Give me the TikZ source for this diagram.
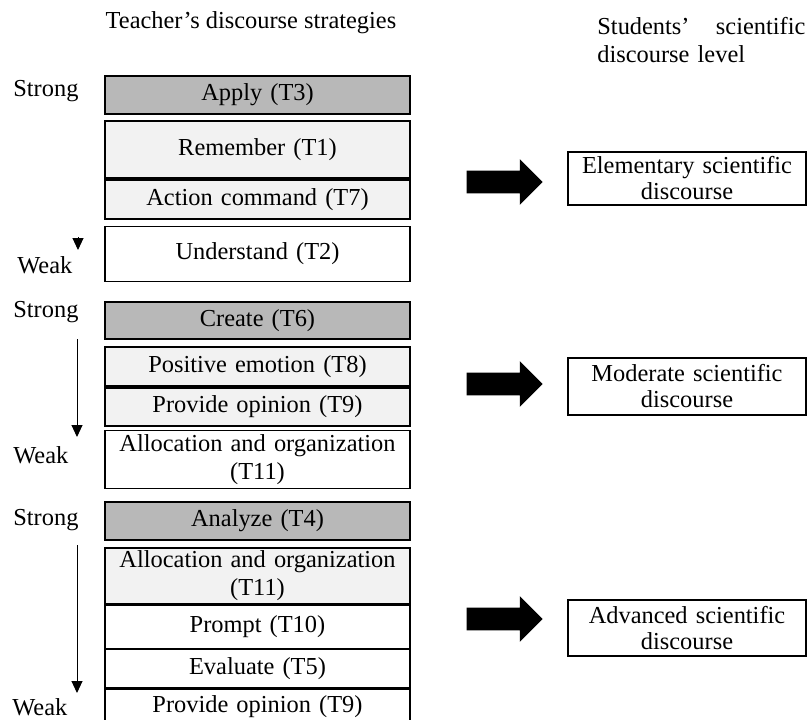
\documentclass[tikz,border=0pt]{standalone}
\usepackage{fontspec}
\setmainfont{Liberation Serif}
\usetikzlibrary{positioning,shapes.arrows,arrows.meta}
\definecolor{stronggray}{HTML}{B8B8B8}
\definecolor{palegray}{HTML}{F2F2F2}

\begin{document}
\begin{tikzpicture}[x=0.5pt,y=-0.5pt,
    font=\fontsize{12.2}{14}\selectfont,
    box/.style={draw,inner sep=0pt,minimum width=152.5pt,text width=148pt,align=center},
    topbox/.style={box,fill=stronggray,line width=1pt},
    midbox/.style={box,fill=palegray,line width=1pt},
    lowbox/.style={box,fill=white,line width=0.6pt},
    level/.style={draw,line width=0.7pt,inner sep=0pt,minimum width=119pt,text width=117pt,
      align=center,font=\fontsize{12.2}{13}\selectfont},
    bigarrow/.style={single arrow,fill=black,inner xsep=0pt,inner ysep=5.5pt,minimum height=38pt,
      single arrow head extend=5.75pt},
    rankword/.style={anchor=base west,inner sep=0pt},
    tip/.style={line width=0.5pt,-{Triangle[length=6pt,width=5.5pt]}}]
  \useasboundingbox (0,0) rectangle (807,719);

  % headings
  \node[anchor=base,inner sep=0pt] (teacher) at (251,28) {Teacher’s discourse strategies};
  \node[anchor=north west,inner sep=0pt,text width=104pt,align=left] (students) at (597,17)
    {Students’\hfill scientific\\discourse level};

  % first group
  \node[topbox,anchor=north west,minimum height=19pt] (apply) at (104,75) {Apply (T3)};
  \node[midbox,below=2.5pt of apply,minimum height=28.5pt] (remember) {Remember (T1)};
  \node[midbox,below=0pt of remember,minimum height=19.5pt] (action) {Action command (T7)};
  \node[lowbox,below=3pt of action,minimum height=27.5pt] (understand) {Understand (T2)};
  \node[rankword] (strongA) at (13,96) {Strong};
  \node[rankword] (weakA) at (17,273) {Weak};
  \coordinate (topA) at (78,237);
  \coordinate (botA) at (78,250);
  \draw[tip] (topA) -- (botA);

  % second group
  \node[topbox,anchor=north west,minimum height=18.5pt] (create) at (104,301) {Create (T6)};
  \node[midbox,below=3pt of create,minimum height=19.5pt] (positive) {Positive emotion (T8)};
  \node[midbox,below=0pt of positive,minimum height=19pt] (opinion) {Provide opinion (T9)};
  \node[lowbox,below=1.5pt of opinion,minimum height=29pt] (allocation)
    {Allocation and organization\\(T11)};
  \node[rankword] (strongB) at (13,317) {Strong};
  \node[rankword] (weakB) at (13,463) {Weak};
  \coordinate (topB) at (77,339);
  \coordinate (botB) at (77,437);
  \draw[tip] (topB) -- (botB);

  % third group
  \node[topbox,anchor=north west,minimum height=19pt] (analyze) at (104,501) {Analyze (T4)};
  \node[midbox,below=3pt of analyze,minimum height=28pt] (allocationB)
    {Allocation and organization\\(T11)};
  \node[lowbox,below=0pt of allocationB,minimum height=21.5pt] (prompt) {Prompt (T10)};
  \node[lowbox,below=0pt of prompt,minimum height=19pt] (evaluate) {Evaluate (T5)};
  \node[lowbox,below=0pt of evaluate,minimum height=18pt] (opinionB) {Provide opinion (T9)};
  \node[rankword] (strongC) at (13,525) {Strong};
  \node[rankword] (weakC) at (12,715) {Weak};
  \coordinate (topC) at (77,545);
  \coordinate (botC) at (77,693);
  \draw[tip] (topC) -- (botC);

  % discourse levels
  \node[bigarrow] (arrowA) at (499,182) {};
  \node[bigarrow] (arrowB) at (499,384) {};
  \node[bigarrow] (arrowC) at (499,619) {};
  \node[level,minimum height=26.5pt] (elementary) at (687,178.5) {Elementary scientific\\discourse};
  \node[level,minimum height=28.5pt] (moderate) at (687,386.5) {Moderate scientific\\discourse};
  \node[level,minimum height=28pt] (advanced) at (687,628) {Advanced scientific\\discourse};
\end{tikzpicture}
\end{document}
